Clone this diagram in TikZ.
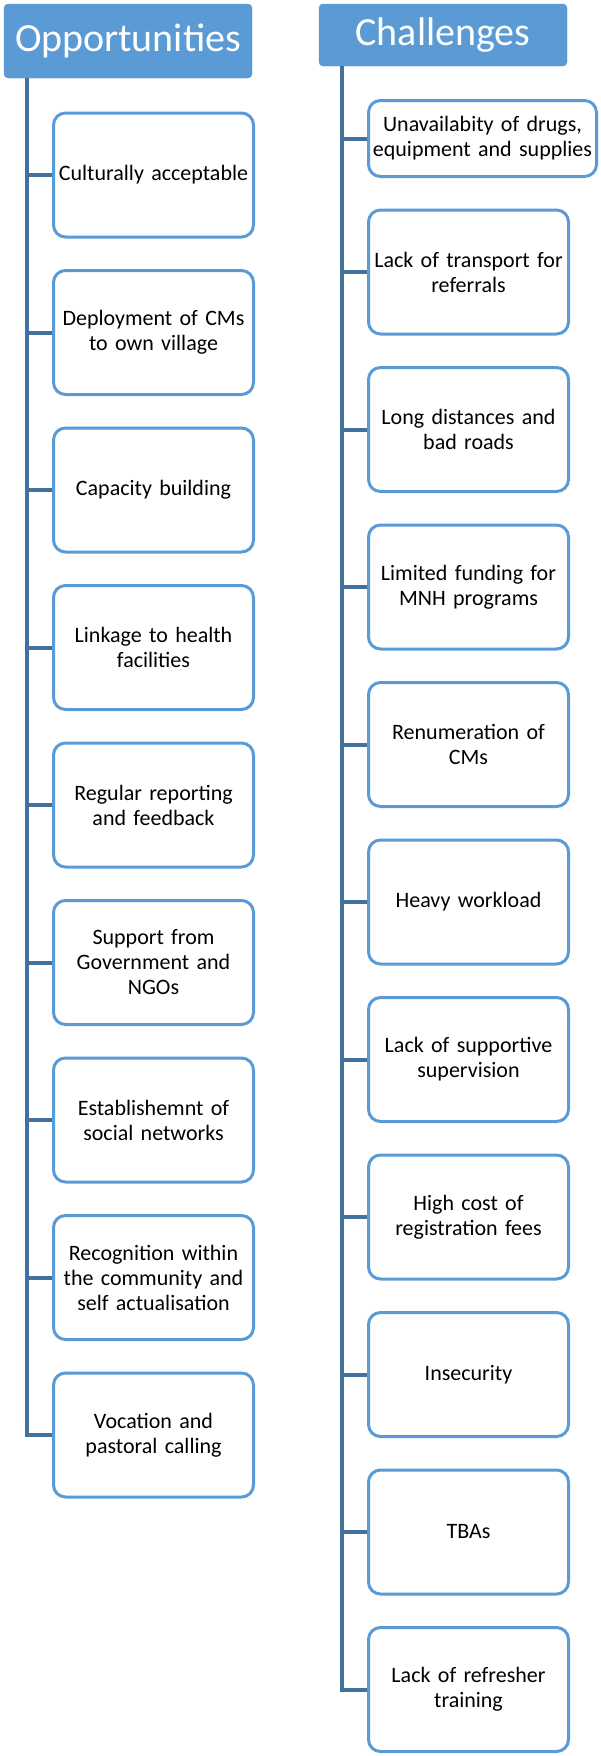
\documentclass[tikz,border=0pt]{standalone}
\usepackage{fontspec}
\setmainfont{Carlito}
\usetikzlibrary{positioning}
\definecolor{headblue}{HTML}{5B9BD5}
\definecolor{trunkblue}{HTML}{41719C}

\begin{document}
\begin{tikzpicture}[x=1pt,y=-1pt,node distance=157.5pt,on grid,
   head/.style={fill=headblue,draw=headblue,rounded corners=4pt,text=white,
     font=\fontsize{40}{44}\selectfont,minimum width=248pt,inner sep=0pt},
   item/.style={draw=headblue,line width=3pt,rounded corners=12pt,fill=white,
     minimum width=200pt,minimum height=124pt,text width=198pt,align=center,
     font=\fontsize{22}{25}\selectfont,inner sep=0pt},
   trunk/.style={draw=trunkblue,line width=4pt}]
   \useasboundingbox (0,0) rectangle (600,1756);

   % left column
   \node[head,minimum height=74pt] (opp) at (128,41) {Opportunities};
   \node[item] (o1) at (153.5,175) {Culturally acceptable};
   \node[item] (o2) [below =of o1] {Deployment of CMs\\to own village};
   \node[item] (o3) [below =of o2] {Capacity building};
   \node[item] (o4) [below =of o3] {Linkage to health\\facilities};
   \node[item] (o5) [below =of o4] {Regular reporting\\and feedback};
   \node[item] (o6) [below =of o5] {Support from\\Government and\\NGOs};
   \node[item] (o7) [below =of o6] {Establishemnt of\\social networks};
   \node[item] (o8) [below =of o7] {Recognition within\\the community and\\self actualisation};
   \node[item] (o9) [below =of o8] {Vocation and\\pastoral calling};

   % right column
   \node[head,minimum height=62pt] (chal) at (443,35) {Challenges};
   \node[item,minimum width=228pt,minimum height=76pt,text width=226pt] (c1) at (482.5,138.5)
      {Unavailabity of drugs,\\equipment and supplies};
   \node[item] (c2) at (468.5,272) {Lack of transport for\\referrals};
   \node[item] (c3) [below =of c2] {Long distances and\\bad roads};
   \node[item] (c4) [below =of c3] {Limited funding for\\MNH programs};
   \node[item] (c5) [below =of c4] {Renumeration of\\CMs};
   \node[item] (c6) [below =of c5] {Heavy workload};
   \node[item] (c7) [below =of c6] {Lack of supportive\\supervision};
   \node[item] (c8) [below =of c7] {High cost of\\registration fees};
   \node[item] (c9) [below =of c8] {Insecurity};
   \node[item] (c10) [below =of c9] {TBAs};
   \node[item] (c11) [below =of c10] {Lack of refresher\\training};

   \coordinate (otop) at ([xshift=23pt]opp.south west);
   \coordinate (ctop) at ([xshift=23pt]chal.south west);
   \draw[trunk] (otop) |- (o9.west);
   \draw[trunk] (ctop) |- (c11.west);
   \foreach \n in {1,...,8}
      \draw[trunk] (o\n.west) -- (o\n.west -| otop);
   \foreach \n in {1,...,10}
      \draw[trunk] (c\n.west) -- (c\n.west -| ctop);
\end{tikzpicture}
\end{document}
